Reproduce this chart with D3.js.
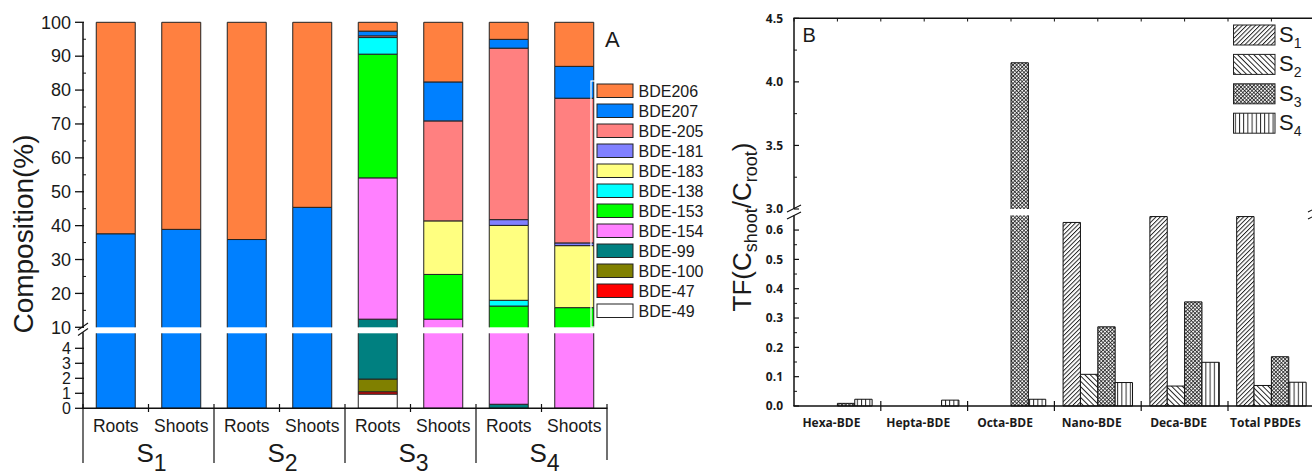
<!DOCTYPE html>
<html><head><meta charset="utf-8">
<script src="https://cdn.jsdelivr.net/npm/d3@7"></script>
<style>body{margin:0;background:#fff}svg{display:block}</style>
</head><body><svg id="c" width="1312" height="475"></svg>
<script>
// ---------------- Panel A data ----------------
const sitesA = ["S1","S2","S3","S4"];
const tissues = ["Roots","Shoots"];
const barKeys = sitesA.flatMap(s => tissues.map(t => s + "|" + t));
const ticksUpperA = [10,20,30,40,50,60,70,80,90,100];
const ticksLowerA = [0,1,2,3,4];
// stacked from bottom to top
const stackKeys = ["BDE-49","BDE-47","BDE-100","BDE-99","BDE-154","BDE-153","BDE-138","BDE-183","BDE-181","BDE-205","BDE207","BDE206"];
const bde49  = [0,0,0,0,0.95,0,0,0];
const bde47  = [0,0,0,0,0.15,0,0,0];
const bde100 = [0,0,0,0,0.85,0,0,0];
const bde99  = [0,0,0,0,10.45,0,0.27,0];
const bde154 = [0,0,0,0,41.7,12.4,8.0,8.0];
const bde153 = [0,0,0,0,36.5,13.2,8.0,7.8];
const bde138 = [0,0,0,0,4.9,0,1.7,0];
const bde183 = [0,0,0,0,0,15.8,22.1,18.3];
const bde181 = [0,0,0,0,0,0,1.7,0.8];
const bde205 = [0,0,0,0,0.5,29.5,50.6,42.7];
const bde207 = [37.6,38.9,35.9,45.4,1.4,11.5,2.6,9.4];
const bde206 = [62.4,61.1,64.1,54.6,2.6,17.6,5.03,13.0];
const colorsA = ["#FFFFFF","#FF0000","#808000","#008080","#FF80FF","#00FF00","#00FFFF","#FFFF80","#8080FF","#FF8080","#0080FF","#FF8040"];
const legendOrderA = ["BDE206","BDE207","BDE-205","BDE-181","BDE-183","BDE-138","BDE-153","BDE-154","BDE-99","BDE-100","BDE-47","BDE-49"];

// ---------------- Panel B data ----------------
const groupsB = ["Hexa-BDE","Hepta-BDE","Octa-BDE","Nano-BDE","Deca-BDE","Total PBDEs"];
const seriesB = ["S1","S2","S3","S4"];
const tfS1 = [0,0,0,0.626,0.646,0.646];
const tfS2 = [0,0,0,0.108,0.068,0.070];
const tfS3 = [0.009,0,4.15,0.27,0.355,0.168];
const tfS4 = [0.023,0.020,0.023,0.080,0.149,0.081];
const ticksUpperB = [3.0,3.5,4.0,4.5];
const ticksLowerB = [0.0,0.1,0.2,0.3,0.4,0.5,0.6];

const svg = d3.select("#c");
const FONT = "'Liberation Sans', Arial, sans-serif";
const BFONT = "'Open Sans', sans-serif";

// ---------- patterns ----------
const defs = svg.append("defs");
function linePattern(id, spacing, angle, cross, sw) {
  const p = defs.append("pattern").attr("id", id).attr("patternUnits","userSpaceOnUse")
    .attr("width", spacing).attr("height", spacing)
    .attr("patternTransform", `rotate(${angle})`);
  p.append("rect").attr("width", spacing).attr("height", spacing).attr("fill", "#fff");
  p.append("line").attr("x1", 0.5).attr("y1", 0).attr("x2", 0.5).attr("y2", spacing)
    .attr("stroke", "#111").attr("stroke-width", sw);
  if (cross) p.append("line").attr("x1", 0).attr("y1", 0.5).attr("x2", spacing).attr("y2", 0.5)
    .attr("stroke", "#111").attr("stroke-width", sw);
}
linePattern("pS1", 3.1, 45, false, 0.9);
linePattern("pS2", 3.8, -45, false, 0.9);
linePattern("pS3", 2.6, 45, true, 0.75);
linePattern("pS4", 4.2, 0, false, 0.9);
const fillsB = ["url(#pS1)","url(#pS2)","url(#pS3)","url(#pS4)"];

// piece drawer for broken axes
function drawPiece(g, x, w, v0, v1, lo, hi, yLo, yHi, fill, stroke, sw) {
  const parts = [[lo[0], lo[1], yLo], [hi[0], hi[1], yHi]];
  parts.forEach(([d0, d1, sc]) => {
    const a = Math.max(v0, d0), b = Math.min(v1, d1);
    if (b <= a) return;
    const yt = sc(b), yb = sc(a);
    g.append("rect").attr("x", x).attr("y", yt).attr("width", w).attr("height", yb - yt).attr("fill", fill);
    let p = `M${x},${yt}L${x},${yb}M${x+w},${yt}L${x+w},${yb}`;
    if (v1 <= d1) p += `M${x},${yt}L${x+w},${yt}`;
    if (v0 >= d0) p += `M${x},${yb}L${x+w},${yb}`;
    g.append("path").attr("d", p).attr("fill", "none").attr("stroke", stroke).attr("stroke-width", sw);
  });
}

// ================= PANEL A =================
const xA = d3.scaleBand().domain(barKeys).range([83, 607]).paddingInner(0.405).paddingOuter(0.2025);
const yAu = d3.scaleLinear().domain([10, 100]).range([327.3, 22.3]);
const yAl = d3.scaleLinear().domain([0, 5]).range([408.3, 333.3]);

const tableA = barKeys.map((k, i) => {
  const o = {key: k};
  const arrs = [bde49,bde47,bde100,bde99,bde154,bde153,bde138,bde183,bde181,bde205,bde207,bde206];
  stackKeys.forEach((s, j) => o[s] = arrs[j][i]);
  return o;
});
const stacked = d3.stack().keys(stackKeys)(tableA);
const gA = svg.append("g");
stacked.forEach((layer, li) => {
  layer.forEach(d => {
    if (d[1] - d[0] <= 0) return;
    drawPiece(gA, xA(d.data.key), xA.bandwidth(), d[0], d[1], [0,5], [10,100], yAl, yAu, colorsA[li], "#222", 1);
  });
});

// axes A
const axA = svg.append("g").attr("stroke", "#111").attr("fill", "none");
axA.append("line").attr("x1", 83).attr("x2", 83).attr("y1", yAu(100)).attr("y2", yAu(10)).attr("stroke-width", 1.5);
axA.append("line").attr("x1", 83).attr("x2", 83).attr("y1", yAl(5) - 1).attr("y2", yAl(0)).attr("stroke-width", 1.5);
ticksUpperA.forEach(v => axA.append("line").attr("x1", 75).attr("x2", 84).attr("y1", yAu(v)).attr("y2", yAu(v)).attr("stroke-width", 1.3));
d3.range(15, 100, 10).forEach(v => axA.append("line").attr("x1", 83).attr("x2", 86).attr("y1", yAu(v)).attr("y2", yAu(v)).attr("stroke-width", 1));
ticksLowerA.forEach(v => axA.append("line").attr("x1", 75).attr("x2", 84).attr("y1", yAl(v)).attr("y2", yAl(v)).attr("stroke-width", 1.3));
// break marks
[[326], [331.5]].forEach(([yy]) => axA.append("line").attr("x1", 78).attr("x2", 88).attr("y1", yy + 4).attr("y2", yy - 3).attr("stroke-width", 1.1));
// x axis
axA.append("line").attr("x1", 82).attr("x2", 607.5).attr("y1", yAl(0)).attr("y2", yAl(0)).attr("stroke-width", 1.5);
const stepA = xA.step();
d3.range(0, 9).forEach(i => {
  const xx = 83 + i * stepA;
  if (i % 2 === 0) axA.append("line").attr("x1", xx).attr("x2", xx).attr("y1", 404).attr("y2", i === 8 ? 460 : 463).attr("stroke-width", 1.2);
  else axA.append("line").attr("x1", xx).attr("x2", xx).attr("y1", 404).attr("y2", 412).attr("stroke-width", 1.2);
});
// tick labels A
const tA = svg.append("g").attr("font-family", FONT).attr("fill", "#1a1a1a");
ticksUpperA.forEach(v => tA.append("text").attr("x", 71).attr("y", yAu(v)).attr("dy", "0.35em").attr("text-anchor", "end").attr("font-size", 18).text(v));
ticksLowerA.forEach(v => tA.append("text").attr("x", 71).attr("y", yAl(v)).attr("dy", "0.35em").attr("text-anchor", "end").attr("font-size", 16).text(v));
barKeys.forEach(k => tA.append("text").attr("x", xA(k) + xA.bandwidth() / 2).attr("y", 432).attr("text-anchor", "middle").attr("font-size", 17.5).text(k.split("|")[1]));
sitesA.forEach((s, i) => {
  const t = tA.append("text").attr("x", 83 + (2 * i + 1) * stepA + 3).attr("y", 462).attr("text-anchor", "middle").attr("font-size", 26);
  t.append("tspan").text("S");
  t.append("tspan").attr("dy", 9).attr("font-size", 23).text(s.slice(1));
});
tA.append("text").attr("transform", "translate(33,234) rotate(-90)").attr("text-anchor", "middle").attr("font-size", 28).text("Composition(%)");
tA.append("text").attr("x", 605).attr("y", 46.5).attr("font-size", 22).text("A");

// legend A frame (white)
svg.append("rect").attr("x", 591).attr("y", 81).attr("width", 140).attr("height", 246).attr("fill", "none").attr("stroke", "#fff").attr("stroke-width", 1.2);
const lgA = svg.append("g");
legendOrderA.forEach((name, i) => {
  const ci = stackKeys.indexOf(name);
  const yy = 84 + i * 20;
  lgA.append("rect").attr("x", 597).attr("y", yy).attr("width", 36).attr("height", 13.5).attr("fill", colorsA[ci]).attr("stroke", "#222").attr("stroke-width", 1);
  lgA.append("text").attr("x", 638.5).attr("y", yy + 6.9).attr("dy", "0.36em").attr("font-family", FONT).attr("font-size", 16).attr("fill", "#1a1a1a").text(name);
});

// ================= PANEL B =================
const xB = d3.scaleBand().domain(groupsB).range([794, 1314.8]).padding(0);
const xBs = d3.scaleBand().domain(seriesB).range([0, xB.bandwidth()]).paddingInner(0).paddingOuter(0.5);
const yBu = d3.scaleLinear().domain([3.0, 4.5]).range([209, 18.3]);
const yBl = d3.scaleLinear().domain([0, 0.65]).range([406, 215.4]);
const seriesVals = [tfS1, tfS2, tfS3, tfS4];
const gB = svg.append("g");
seriesB.forEach((s, si) => {
  groupsB.forEach((g, gi) => {
    const v = seriesVals[si][gi];
    if (v <= 0) return;
    drawPiece(gB, xB(g) + xBs(s), xBs.bandwidth(), 0, v, [0, 0.65], [3.0, 4.5], yBl, yBu, fillsB[si], "#111", 1);
  });
});
// axes B
const axB = svg.append("g").attr("stroke", "#111").attr("fill", "none");
axB.append("line").attr("x1", 794).attr("x2", 794).attr("y1", yBu(4.5)).attr("y2", yBu(3.0)).attr("stroke-width", 1.5);
axB.append("line").attr("x1", 794).attr("x2", 794).attr("y1", yBl(0.65)).attr("y2", yBl(0)).attr("stroke-width", 1.5);
axB.append("line").attr("x1", 793.3).attr("x2", 1320).attr("y1", yBu(4.5)).attr("y2", yBu(4.5)).attr("stroke-width", 1.5);
axB.append("line").attr("x1", 793.3).attr("x2", 1320).attr("y1", yBl(0)).attr("y2", yBl(0)).attr("stroke-width", 1.5);
ticksUpperB.forEach(v => axB.append("line").attr("x1", 794).attr("x2", 799).attr("y1", yBu(v)).attr("y2", yBu(v)).attr("stroke-width", 1.2));
[3.25, 3.75, 4.25].forEach(v => axB.append("line").attr("x1", 794).attr("x2", 797).attr("y1", yBu(v)).attr("y2", yBu(v)).attr("stroke-width", 1));
ticksLowerB.forEach(v => axB.append("line").attr("x1", 794).attr("x2", 799).attr("y1", yBl(v)).attr("y2", yBl(v)).attr("stroke-width", 1.2));
d3.range(0.05, 0.65, 0.1).forEach(v => axB.append("line").attr("x1", 794).attr("x2", 797).attr("y1", yBl(v)).attr("y2", yBl(v)).attr("stroke-width", 1));
// x ticks B
groupsB.forEach((g, i) => {
  if (i > 0) axB.append("line").attr("x1", xB(g)).attr("x2", xB(g)).attr("y1", 401).attr("y2", 411).attr("stroke-width", 1.2);
  axB.append("line").attr("x1", xB(g)).attr("x2", xB(g)).attr("y1", 18.3).attr("y2", 21.5).attr("stroke-width", 1);
  axB.append("line").attr("x1", xB(g) + xB.bandwidth() / 2).attr("x2", xB(g) + xB.bandwidth() / 2).attr("y1", 18.3).attr("y2", 21.5).attr("stroke-width", 1);
});
// break marks B
[[794], [1315]].forEach(([xx]) => {
  axB.append("line").attr("x1", xx - 7).attr("x2", xx + 7).attr("y1", 212).attr("y2", 205).attr("stroke-width", 1.1);
  axB.append("line").attr("x1", xx - 7).attr("x2", xx + 7).attr("y1", 219).attr("y2", 212).attr("stroke-width", 1.1);
});
const tB = svg.append("g").attr("font-family", BFONT).attr("font-weight", "bold").attr("fill", "#1a1a1a").attr("font-size", 12);
ticksUpperB.forEach(v => tB.append("text").attr("x", 783).attr("y", yBu(v)).attr("dy", "0.35em").attr("text-anchor", "end").text(v.toFixed(1)));
ticksLowerB.forEach(v => tB.append("text").attr("x", 783).attr("y", yBl(v)).attr("dy", "0.35em").attr("text-anchor", "end").text(v.toFixed(1)));
groupsB.forEach(g => tB.append("text").attr("x", xB(g) + xB.bandwidth() / 2 - 6).attr("y", 427).attr("text-anchor", "middle").text(g));
// y label B
const yl = svg.append("text").attr("transform", "translate(751,227) rotate(-90)").attr("text-anchor", "middle")
  .attr("font-family", FONT).attr("font-size", 26).attr("fill", "#1a1a1a");
yl.append("tspan").text("TF(C");
yl.append("tspan").attr("dy", 6).attr("font-size", 18).text("shoot");
yl.append("tspan").attr("dy", -6).text("/C");
yl.append("tspan").attr("dy", 6).attr("font-size", 18).text("root");
yl.append("tspan").attr("dy", -6).text(")");
svg.append("text").attr("x", 802.5).attr("y", 41.7).attr("font-family", FONT).attr("font-size", 20).attr("fill", "#1a1a1a").text("B");
// legend B
const lgB = svg.append("g");
seriesB.forEach((s, i) => {
  const yy = 25 + i * 29.4;
  lgB.append("rect").attr("x", 1233.5).attr("y", yy).attr("width", 41.5).attr("height", 20).attr("fill", fillsB[i]).attr("stroke", "#222").attr("stroke-width", 1);
  const t = lgB.append("text").attr("x", 1279).attr("y", yy + 17).attr("font-family", FONT).attr("font-size", 22).attr("fill", "#1a1a1a");
  t.append("tspan").text("S");
  t.append("tspan").attr("dy", 6).attr("font-size", 14).text(s.slice(1));
});
</script></body></html>
